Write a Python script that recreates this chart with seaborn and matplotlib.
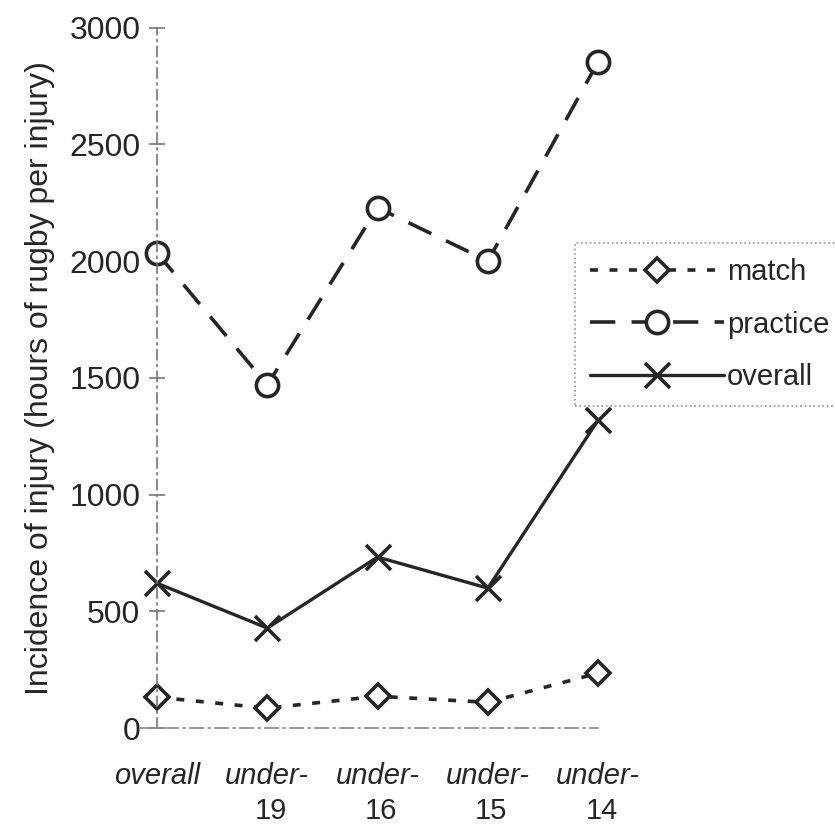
import numpy as np
import pandas as pd
import matplotlib
matplotlib.use('Agg')
import matplotlib.pyplot as plt
import matplotlib.transforms as mtransforms
import seaborn as sns

# Values
group_top = ['overall', 'under-', 'under-', 'under-', 'under-']
group_bottom = ['', '19', '16', '15', '14']
match = [133, 86, 137, 111, 236]
practice = [2036, 1470, 2229, 2001, 2854]
overall = [621, 429, 733, 600, 1320]

sns.set_theme(style='white')
plt.rcParams['font.family'] = ['Liberation Sans', 'DejaVu Sans']

ink = '#262626'

fig = plt.figure(figsize=(8.35, 8.39), dpi=100)
ax = fig.add_axes([0.188, 0.132, 0.531, 0.835])

pos = np.arange(len(group_top))
df = pd.DataFrame({'pos': pos, 'match': match, 'practice': practice, 'overall': overall})

sns.lineplot(data=df, x='pos', y='match', ax=ax, color=ink, lw=2.6,
             linestyle=(0, (2.2, 3.2)), marker='D', markersize=12,
             markerfacecolor='white', markeredgecolor=ink, markeredgewidth=2.6,
             label='match', clip_on=False)
sns.lineplot(data=df, x='pos', y='practice', ax=ax, color=ink, lw=2.6,
             linestyle=(0, (7, 4.5)), marker='o', markersize=16,
             markerfacecolor='white', markeredgecolor=ink, markeredgewidth=2.6,
             label='practice', clip_on=False)
sns.lineplot(data=df, x='pos', y='overall', ax=ax, color=ink, lw=2.4,
             linestyle='-', marker='x', markersize=18, markeredgewidth=2.6,
             markeredgecolor=ink, label='overall', clip_on=False)

ax.set_xlim(0, 4.02)
ax.set_ylim(0, 3000)
ax.set_yticks([0, 500, 1000, 1500, 2000, 2500, 3000])
ax.set_xticks(pos)
ax.set_xticklabels(group_top, fontsize=21, style='italic', color=ink)
ax.tick_params(axis='x', length=0, pad=24)
ax.tick_params(axis='y', direction='inout', length=12, width=1.2, color='#777777',
               labelsize=23, labelcolor=ink, pad=6, left=True)

# second line of the x labels (the ages), upright
trans = mtransforms.blended_transform_factory(ax.transData, ax.transAxes)
for p, lab in zip(pos, group_bottom):
    ax.text(p + 0.03, -0.098, lab, transform=trans, ha='center', va='top',
            fontsize=21, color=ink)

ax.set_xlabel('')
ax.set_ylabel('Incidence of injury (hours of rugby per injury)', fontsize=23,
              color=ink, labelpad=10)

for side in ['top', 'right']:
    ax.spines[side].set_visible(False)
ax.spines['left'].set_linestyle((0, (6, 3, 1, 3)))
ax.spines['left'].set_color('#777777')
ax.spines['left'].set_linewidth(1.2)
ax.spines['bottom'].set_linestyle((0, (8, 3, 1, 3)))
ax.spines['bottom'].set_color('#888888')
ax.spines['bottom'].set_linewidth(1.2)
ax.spines['bottom'].set_bounds(-0.15, 4.0)
ax.spines['bottom'].set_clip_on(False)

leg = ax.legend(loc='upper left', bbox_to_anchor=(0.689, 0.71),
                bbox_transform=fig.transFigure, fontsize=21, handlelength=4.6,
                handletextpad=0.1, labelspacing=0.85, borderpad=0.5,
                frameon=True, fancybox=False, borderaxespad=0)
frame = leg.get_frame()
frame.set_edgecolor('#777777')
frame.set_linestyle(':')
frame.set_linewidth(1.2)
for t in leg.get_texts():
    t.set_color(ink)

fig.savefig('out.png', dpi=100, facecolor='white')
